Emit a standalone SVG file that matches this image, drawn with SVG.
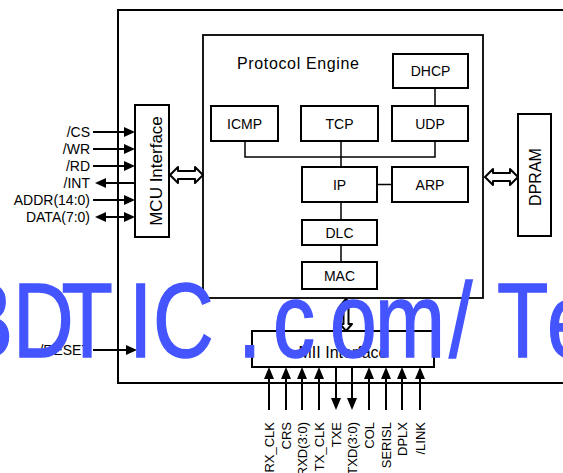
<svg xmlns="http://www.w3.org/2000/svg" width="563" height="473" viewBox="0 0 563 473">
<style>
.box{fill:#fff;stroke:#000;stroke-width:2}
.thin{fill:none;stroke:#000;stroke-width:1.5}
.sig{fill:none;stroke:#000;stroke-width:2}
.hd{fill:#000}
.dbl{fill:#fff;stroke:#000;stroke-width:2;stroke-linejoin:round}
text{font-family:"Liberation Sans",Arial,sans-serif;fill:#000}
.lbl{font-size:14px;text-anchor:middle}
.sl{font-size:14px;text-anchor:end}
.bl{font-size:13px;text-anchor:end}
.wm{font-size:105px;fill:#4455ff;stroke:#4455ff;stroke-width:1.5}
</style>
<rect id="chip" x="118" y="10" width="470" height="373" fill="#fff" stroke="#000" stroke-width="2"/>
<g id="protocol-engine"><rect x="203" y="35" width="280" height="263" fill="#fff" stroke="#000" stroke-width="1.8"/>
<text x="237" y="69" font-size="16" textLength="122" lengthAdjust="spacing">Protocol Engine</text></g>
<g id="mcu"><rect class="box" x="135" y="105" width="34" height="132"/>
<text transform="translate(162,171) rotate(-90)" font-size="17" text-anchor="middle">MCU Interface</text></g>
<g id="dpram"><rect class="box" x="518" y="114" width="33" height="122"/>
<text transform="translate(541,177) rotate(-90)" font-size="16" text-anchor="middle">DPRAM</text></g>
<g id="mii"><rect class="box" x="252" y="331" width="182" height="36"/>
<text x="343" y="358" font-size="16" text-anchor="middle">MII Interface</text></g>
<g id="dhcp"><rect class="box" x="393" y="54" width="75" height="34"/><text class="lbl" x="430.5" y="76">DHCP</text></g>
<g id="icmp"><rect class="box" x="211" y="106" width="67" height="35"/><text class="lbl" x="244.5" y="128.5">ICMP</text></g>
<g id="tcp"><rect class="box" x="301" y="106" width="77" height="35"/><text class="lbl" x="339.5" y="128.5">TCP</text></g>
<g id="udp"><rect class="box" x="392" y="106" width="76" height="35"/><text class="lbl" x="430" y="128.5">UDP</text></g>
<g id="ip"><rect class="box" x="302" y="167" width="75" height="35"/><text class="lbl" x="339.5" y="189.5">IP</text></g>
<g id="arp"><rect class="box" x="392" y="167" width="76" height="35"/><text class="lbl" x="430" y="189.5">ARP</text></g>
<g id="dlc"><rect class="box" x="302" y="220" width="75" height="25"/><text class="lbl" x="339.5" y="237.5">DLC</text></g>
<g id="mac"><rect class="box" x="302" y="262" width="75" height="27"/><text class="lbl" x="339.5" y="280.5">MAC</text></g>
<g id="connectors">
<path class="thin" d="M435 88V106M245 141V157H435V141M341 141V167M377 184.5H392M341 202V220M341 245V262"/>
<polygon class="dbl" points="170,175 178,167 178,171 195,171 195,167 203,175 195,183 195,179 178,179 178,183"/>
<polygon class="dbl" points="485,177 493,169 493,173 510,173 510,169 518,177 510,185 510,181 493,181 493,185"/>
<polygon class="dbl" stroke-width="1.5" points="346,299 352,306 348.5,306 348.5,324 352,324 346,331 340,324 343.5,324 343.5,306 340,306"/>
<path class="sig" d="M93 132H126M93 149H126M93 166H126M104 183H135M93 200H126M104 217H126M93 350H127"/>
<polygon class="hd" points="135,132 124,127 124,137"/>
<polygon class="hd" points="135,149 124,144 124,154"/>
<polygon class="hd" points="135,166 124,161 124,171"/>
<polygon class="hd" points="95,183 106,178 106,188"/>
<polygon class="hd" points="135,200 124,195 124,205"/>
<polygon class="hd" points="95,217 106,212 106,222"/>
<polygon class="hd" points="135,217 124,212 124,222"/>
<polygon class="hd" points="137,350 126,345 126,355"/>
<path class="sig" d="M269 377V410M286 377V410M302 377V410M319 377V410M336 367V400M352 367V400M369 377V410M386 377V410M402 377V410M420 377V410"/>
<polygon class="hd" points="269,367 264,379 274,379"/>
<polygon class="hd" points="286,367 281,379 291,379"/>
<polygon class="hd" points="302,367 297,379 307,379"/>
<polygon class="hd" points="319,367 314,379 324,379"/>
<polygon class="hd" points="336,410 331,398 341,398"/>
<polygon class="hd" points="352,410 347,398 357,398"/>
<polygon class="hd" points="369,367 364,379 374,379"/>
<polygon class="hd" points="386,367 381,379 391,379"/>
<polygon class="hd" points="402,367 397,379 407,379"/>
<polygon class="hd" points="420,367 415,379 425,379"/>
</g>
<g id="signal-labels">
<text class="sl" x="90" y="137">/CS</text>
<text class="sl" x="90" y="154">/WR</text>
<text class="sl" x="90" y="171">/RD</text>
<text class="sl" x="90" y="188">/INT</text>
<text class="sl" x="90" y="205">ADDR(14:0)</text>
<text class="sl" x="90" y="222">DATA(7:0)</text>
<text class="sl" x="90" y="355">/RESET</text>
<text class="bl" transform="translate(273.5,422) rotate(-90)">RX_CLK</text>
<text class="bl" transform="translate(290.5,422) rotate(-90)">CRS</text>
<text class="bl" transform="translate(306.5,422) rotate(-90)">RXD(3:0)</text>
<text class="bl" transform="translate(323.5,422) rotate(-90)">TX_CLK</text>
<text class="bl" transform="translate(340.5,422) rotate(-90)">TXE</text>
<text class="bl" transform="translate(356.5,422) rotate(-90)">TXD(3:0)</text>
<text class="bl" transform="translate(373.5,422) rotate(-90)">COL</text>
<text class="bl" transform="translate(390.5,422) rotate(-90)">SERISL</text>
<text class="bl" transform="translate(406.5,422) rotate(-90)">DPLX</text>
<text class="bl" transform="translate(424.5,422) rotate(-90)">/LINK</text>
</g>
<text class="wm" transform="scale(0.8,1)" x="-53.75 16.25 76.75 161.25 191.25 297.5 341.25 412.5 468.75 561.25 621.25 683.75" y="357">BDTIC.com/Te</text>
</svg>
